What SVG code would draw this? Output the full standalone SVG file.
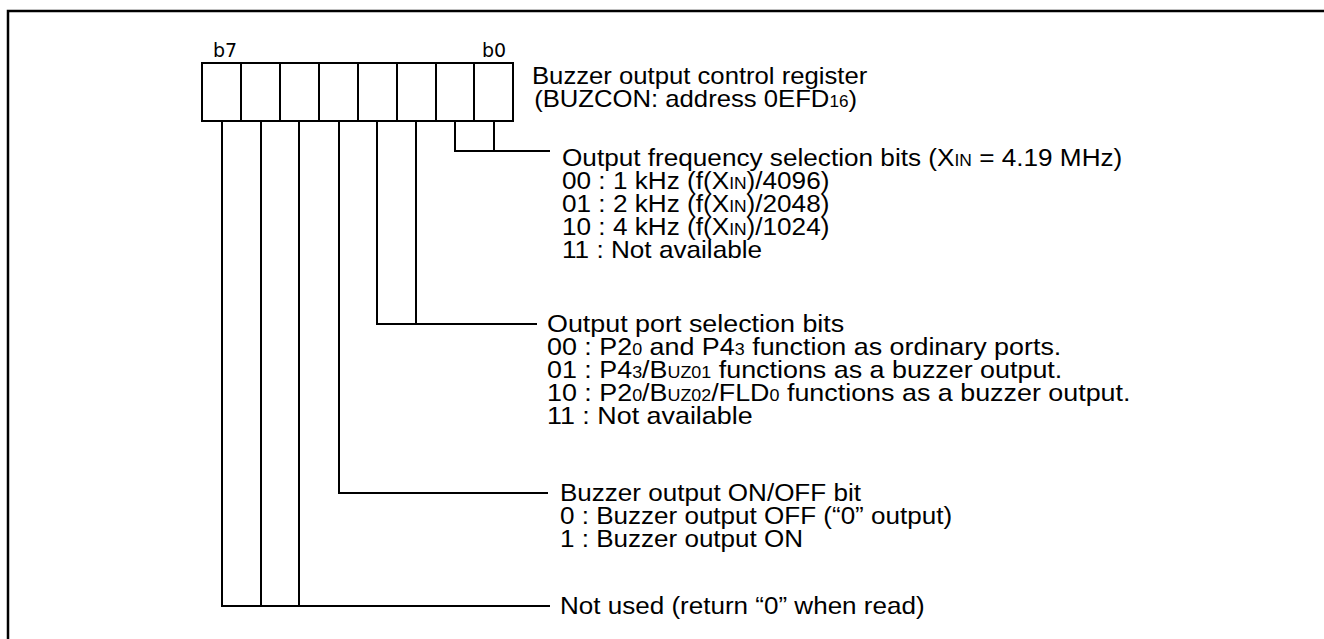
<svg xmlns="http://www.w3.org/2000/svg" width="1324" height="639" viewBox="0 0 1324 639">
<style>
.t{font-family:"Liberation Sans",Arial,sans-serif;font-size:24px;fill:#000}
.s{font-size:16px}
.lbl{font-family:"DejaVu Sans",sans-serif;font-size:19px;fill:#000}
.ln{stroke:#000;stroke-width:2;fill:none}
</style>
<rect x="8" y="11" width="1400" height="700" fill="#fff" stroke="#000" stroke-width="2.5"/>
<g id="register">
<rect x="202" y="63" width="311" height="58" class="ln"/>
<path class="ln" d="M241,63V121M280,63V121M319,63V121M358,63V121M397,63V121M436,63V121M474,63V121"/>
<text class="lbl" x="213" y="57">b7</text>
<text class="lbl" x="482" y="57">b0</text>
<g transform="translate(532 0) scale(1.07 1)">
<text class="t" x="0" y="84">Buzzer output control register</text>
<text class="t" x="2" y="107">(BUZCON: address 0EFD<tspan class="s">16</tspan>)</text>
</g>
</g>
<g id="connectors">
<path class="ln" d="M455,121V151H550M494,121V151"/>
<path class="ln" d="M377,121V324H537M416,121V324"/>
<path class="ln" d="M339,121V493H548"/>
<path class="ln" d="M222,121V606H550M261,121V606M299,121V606"/>
</g>
<g id="freq" transform="translate(562 0) scale(1.09 1)">
<text class="t" x="0" y="166">Output frequency selection bits (X<tspan class="s">IN</tspan> = 4.19 MHz)</text>
<text class="t" x="0" y="189">00 : 1 kHz (f(X<tspan class="s">IN</tspan>)/4096)</text>
<text class="t" x="0" y="212">01 : 2 kHz (f(X<tspan class="s">IN</tspan>)/2048)</text>
<text class="t" x="0" y="235">10 : 4 kHz (f(X<tspan class="s">IN</tspan>)/1024)</text>
<text class="t" x="0" y="258">11 : Not available</text>
</g>
<g id="port" transform="translate(547 0) scale(1.12 1)">
<text class="t" x="0" y="332">Output port selection bits</text>
<text class="t" x="0" y="355">00 : P2<tspan class="s">0</tspan> and P4<tspan class="s">3</tspan> function as ordinary ports.</text>
<text class="t" x="0" y="378">01 : P4<tspan class="s">3</tspan>/B<tspan class="s">UZ01</tspan> functions as a buzzer output.</text>
<text class="t" x="0" y="401">10 : P2<tspan class="s">0</tspan>/B<tspan class="s">UZ02</tspan>/FLD<tspan class="s">0</tspan> functions as a buzzer output.</text>
<text class="t" x="0" y="424">11 : Not available</text>
</g>
<g id="onoff" transform="translate(560 0) scale(1.085 1)">
<text class="t" x="0" y="501">Buzzer output ON/OFF bit</text>
<text class="t" x="0" y="524">0 : Buzzer output OFF (“0” output)</text>
<text class="t" x="0" y="547">1 : Buzzer output ON</text>
</g>
<g id="notused" transform="translate(560 0) scale(1.085 1)">
<text class="t" x="0" y="614">Not used (return “0” when read)</text>
</g>
</svg>
